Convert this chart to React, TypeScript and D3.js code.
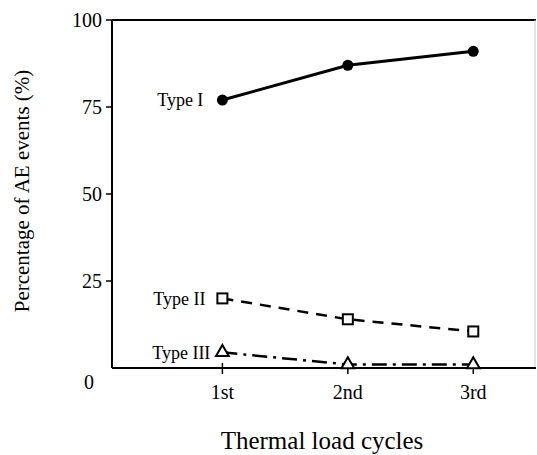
import React, { useEffect, useRef } from 'react';
import * as d3 from 'd3';

const cycles = ['1st', '2nd', '3rd'];
const typeI = [77, 87, 91];
const typeII = [20, 14, 10.5];
const typeIII = [4.5, 1, 1];
const yTicks = [0, 25, 50, 75, 100];
const seriesLabels = ['Type I', 'Type II', 'Type III'];

const App: React.FC = () => {
  const svgRef = useRef<SVGSVGElement>(null);

  useEffect(() => {
    if (!svgRef.current) return;
    const svg = d3.select(svgRef.current);
    svg.selectAll('*').remove();

    const font = "'Liberation Serif', 'Times New Roman', serif";
    const left = 112, right = 536, top = 20, bottom = 368;

    const x = d3.scaleLinear().domain([0.12, 3.5]).range([left, right]);
    const y = d3.scaleLinear().domain([0, 100]).range([bottom, top]);

    // frame
    svg.append('line').attr('x1', left).attr('x2', right).attr('y1', top).attr('y2', top)
      .attr('stroke', '#000').attr('stroke-width', 2);
    svg.append('line').attr('x1', right - 1).attr('x2', right - 1).attr('y1', top).attr('y2', bottom)
      .attr('stroke', '#ccc').attr('stroke-width', 1);
    svg.append('line').attr('x1', left).attr('x2', left).attr('y1', top).attr('y2', bottom)
      .attr('stroke', '#000').attr('stroke-width', 2);
    svg.append('line').attr('x1', left).attr('x2', right).attr('y1', bottom).attr('y2', bottom)
      .attr('stroke', '#000').attr('stroke-width', 2);

    // y ticks
    yTicks.forEach(t => {
      if (t > 0) {
        svg.append('line').attr('x1', left - 6).attr('x2', left).attr('y1', y(t)).attr('y2', y(t))
          .attr('stroke', '#000').attr('stroke-width', 1.5);
      }
      svg.append('text')
        .attr('x', t === 0 ? left - 18 : left - 10)
        .attr('y', t === 0 ? y(t) + 14 : y(t))
        .attr('dy', '0.35em')
        .attr('text-anchor', 'end')
        .style('font-family', font).style('font-size', '20px')
        .text(String(t));
    });

    // x ticks
    cycles.forEach((c, i) => {
      svg.append('line').attr('x1', x(i + 1)).attr('x2', x(i + 1)).attr('y1', bottom - 5).attr('y2', bottom + 6)
        .attr('stroke', '#000').attr('stroke-width', 1.5);
      svg.append('text')
        .attr('x', x(i + 1)).attr('y', bottom + 24).attr('dy', '0.35em')
        .attr('text-anchor', 'middle')
        .style('font-family', font).style('font-size', '20px')
        .text(c);
    });

    // axis titles
    svg.append('text')
      .attr('x', 322).attr('y', 449)
      .attr('text-anchor', 'middle')
      .style('font-family', font).style('font-size', '25px')
      .text('Thermal load cycles');
    svg.append('text')
      .attr('transform', 'translate(29,191) rotate(-90)')
      .attr('text-anchor', 'middle')
      .style('font-family', font).style('font-size', '21px')
      .text('Percentage of AE events (%)');

    const line = d3.line<number>().x((_, i) => x(i + 1)).y(d => y(d));

    // Type I
    svg.append('path').datum(typeI).attr('d', line).attr('fill', 'none')
      .attr('stroke', '#000').attr('stroke-width', 3);
    svg.selectAll('.c1').data(typeI).join('circle')
      .attr('cx', (_, i) => x(i + 1)).attr('cy', d => y(d)).attr('r', 5.5).attr('fill', '#000');

    // Type II
    svg.append('path').datum(typeII).attr('d', line).attr('fill', 'none')
      .attr('stroke', '#000').attr('stroke-width', 2.5).attr('stroke-dasharray', '11 8');
    svg.selectAll('.s2').data(typeII).join('rect')
      .attr('x', (_, i) => x(i + 1) - 5).attr('y', d => y(d) - 5)
      .attr('width', 10).attr('height', 10)
      .attr('fill', '#fff').attr('stroke', '#000').attr('stroke-width', 2);

    // Type III
    svg.append('path').datum(typeIII).attr('d', line).attr('fill', 'none')
      .attr('stroke', '#000').attr('stroke-width', 2.5).attr('stroke-dasharray', '15 6 3 6');
    const tri = d3.symbol().type(d3.symbolTriangle).size(70);
    svg.selectAll('.t3').data(typeIII).join('path')
      .attr('d', tri)
      .attr('transform', (d, i) => `translate(${x(i + 1)},${y(d)})`)
      .attr('fill', '#fff').attr('stroke', '#000').attr('stroke-width', 2);

    // series labels
    const firstVals = [typeI[0], typeII[0], typeIII[0]];
    const gaps = [19, 17, 12];
    seriesLabels.forEach((txt, k) => {
      svg.append('text')
        .attr('x', x(1) - gaps[k]).attr('y', y(firstVals[k])).attr('dy', '0.35em')
        .attr('text-anchor', 'end')
        .style('font-family', font).style('font-size', '18px')
        .text(txt);
    });
  }, []);

  return (
    <svg ref={svgRef} width={537} height={455}
      style={{ position: 'absolute', left: 0, top: 0, background: '#fff' }} />
  );
};

export default App;
